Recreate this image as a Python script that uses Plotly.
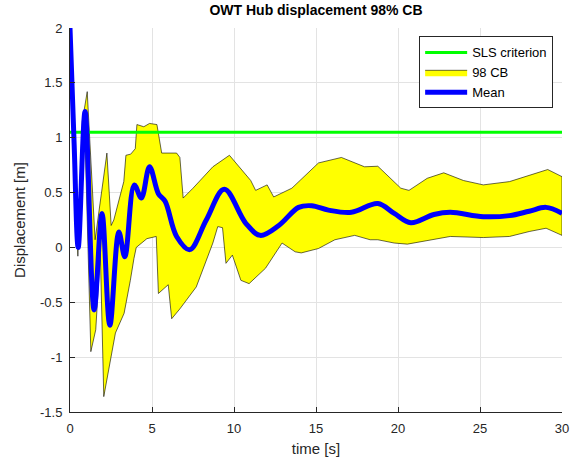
import plotly.graph_objects as go

# Mean response
t_mean = [0.0, 0.25, 0.5, 0.92, 1.47, 1.95, 2.43, 2.98, 3.34, 3.92, 4.35, 4.85, 5.39, 5.8, 6.5, 7.3,
          8.31, 9.41, 10.72, 11.6, 12.73, 13.94, 14.74, 15.76, 17.16, 18.77, 19.77, 20.78, 22.19,
          23.19, 25.2, 26.8, 28.0, 29.03, 30.0]
y_mean = [2.0, 0.95, 0.0, 1.24, -0.57, 0.31, -0.71, 0.14, -0.085, 0.57, 0.45, 0.735, 0.49, 0.42, 0.1, -0.02,
          0.25, 0.53, 0.22, 0.11, 0.20, 0.365, 0.38, 0.34, 0.32, 0.40, 0.31, 0.225, 0.30,
          0.32, 0.28, 0.29, 0.33, 0.365, 0.31]

# Upper confidence bound
t_up = [0.0, 0.25, 0.5, 0.75, 1.05, 1.53, 2.25, 2.51, 2.67, 3.28, 3.41, 3.7, 3.98, 4.08, 4.5, 4.85, 5.3,
        5.59, 6.5, 6.7, 6.9, 7.5, 8.71, 9.72, 11.02, 11.32, 12.02, 12.42, 13.53, 15.15, 16.55, 17.96,
        18.77, 20.17, 20.67, 21.78, 22.79, 23.99, 25.2, 26.8, 27.8, 29.13, 30.0]
y_up = [2.02, 1.0, 0.1, 1.15, 1.42, 0.07, 0.86, 0.2, 0.25, 0.6, 0.84, 0.85, 0.9, 1.12, 1.1, 1.13, 1.12,
        0.86, 0.86, 0.82, 0.45, 0.54, 0.735, 0.84, 0.61, 0.52, 0.57, 0.46, 0.54, 0.77, 0.82, 0.735,
        0.74, 0.54, 0.52, 0.63, 0.68, 0.61, 0.57, 0.6, 0.645, 0.71, 0.645]

# Lower confidence bound
t_low = [0.0, 0.25, 0.48, 0.7, 0.9, 1.27, 1.57, 1.85, 2.06, 2.77, 3.3, 3.68, 3.9, 4.04, 4.69, 5.26, 5.39,
         5.99, 6.2, 6.7, 7.7, 8.71, 9.01, 9.3, 9.51, 9.9, 10.42, 10.92, 11.92, 12.93, 13.73, 14.1,
         15.15, 16.15, 17.36, 18.3, 18.77, 19.77, 20.57, 21.98, 23.19, 25.2, 26.8, 28.0, 29.03, 30.0]
y_low = [1.98, 0.9, -0.08, 0.9, 1.08, -0.95, -0.75, -0.05, -1.36, -0.78, -0.6, -0.3, -0.1, 0.0, 0.08, 0.1, -0.42,
         -0.34, -0.65, -0.56, -0.36, 0.04, 0.19, 0.18, -0.145, -0.07, -0.3, -0.33, -0.19, 0.04, -0.04, -0.05,
         -0.01, 0.07, 0.11, 0.07, 0.07, 0.04, 0.03, 0.07, 0.1, 0.09, 0.1, 0.145, 0.175, 0.11]

sls_value = 1.05
x_range = [0, 30]
y_range = [-1.5, 2]
x_ticks = [0, 5, 10, 15, 20, 25, 30]
y_ticks = [-1.5, -1, -0.5, 0, 0.5, 1, 1.5, 2]
y_ticklabels = ["-1.5", "-1", "-0.5", "0", "0.5", "1", "1.5", "2"]

FONT = "Liberation Sans, Arial, sans-serif"

fig = go.Figure()

fig.add_trace(go.Scatter(
    x=t_up + t_low[::-1], y=y_up + y_low[::-1],
    fill="toself", fillcolor="#ffff00", mode="lines",
    line=dict(color="#000000", width=0.6),
    name="98 CB", legendrank=2, hoverinfo="skip"))

fig.add_trace(go.Scatter(
    x=x_range, y=[sls_value, sls_value], mode="lines",
    line=dict(color="#00ff00", width=3),
    name="SLS criterion", legendrank=1))

fig.add_trace(go.Scatter(
    x=t_mean, y=y_mean, mode="lines", line_shape="spline",
    line=dict(color="#0000ff", width=5, smoothing=1.0),
    name="Mean", legendrank=3))

fig.update_layout(
    width=581, height=469,
    margin=dict(l=70, r=17, t=28, b=57),
    paper_bgcolor="white", plot_bgcolor="white",
    font=dict(family=FONT, size=13, color="#262626"),
    title=dict(text="<b>OWT Hub displacement 98% CB</b>", x=0.5, xanchor="center",
               xref="paper", y=1, yref="container", yanchor="top", pad=dict(t=5),
               font=dict(family=FONT, size=14, color="#000000")),
    legend=dict(x=0.982, y=0.978, xanchor="right", yanchor="top",
                bgcolor="white", bordercolor="#262626", borderwidth=1,
                font=dict(family=FONT, size=13, color="#000000"),
                tracegroupgap=0, itemwidth=42),
    showlegend=True,
)

fig.update_xaxes(range=x_range, tickvals=x_ticks, showgrid=True, gridcolor="#e3e3e3", gridwidth=1,
                 showline=True, linecolor="#262626", linewidth=1, ticks="inside", ticklen=5,
                 tickcolor="#262626", zeroline=False, mirror=False, ticklabelstandoff=4,
                 tickfont=dict(size=13, color="#262626"),
                 title=dict(text="time [s]", font=dict(size=15, color="#262626"), standoff=8))
fig.update_yaxes(range=y_range, tickvals=y_ticks, ticktext=y_ticklabels, showgrid=True,
                 gridcolor="#e3e3e3", gridwidth=1,
                 showline=True, linecolor="#262626", linewidth=1, ticks="inside", ticklen=5,
                 tickcolor="#262626", zeroline=False, mirror=False, ticklabelstandoff=4,
                 tickfont=dict(size=13, color="#262626"),
                 title=dict(text="Displacement [m]", font=dict(size=15, color="#262626"), standoff=10))

fig.write_html("out.html")
